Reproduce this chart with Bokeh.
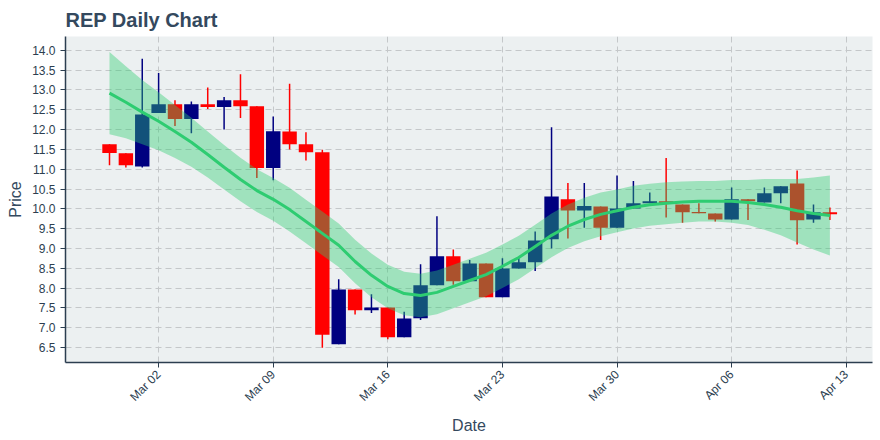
import math
import pandas as pd
from bokeh.plotting import figure
from bokeh.models import (Range1d, FixedTicker, DatetimeTickFormatter,
                          NumeralTickFormatter, ColumnDataSource)
from bokeh.embed import file_html
from bokeh.resources import INLINE

# ---------------- data ----------------
dates = pd.date_range("2020-02-28", "2020-04-12", freq="D")

opens = [11.63, 11.40, 11.07, 12.42, 12.64, 12.27, 12.64, 12.57, 12.74, 12.59,
         11.03, 11.95, 11.63, 11.43, 6.58, 7.96, 7.44, 7.51, 6.76, 7.24,
         8.07, 8.80, 8.17, 8.62, 7.77, 8.49, 8.65, 9.23, 10.24, 9.96,
         10.06, 9.52, 10.01, 10.14, 10.19, 10.11, 9.92, 9.88, 9.73, 10.24,
         10.16, 10.39, 10.64, 9.73, 9.91]
highs = [11.63, 11.40, 13.79, 13.43, 12.74, 12.71, 13.06, 12.82, 13.40, 12.59,
         12.33, 13.16, 11.93, 11.49, 8.22, 7.96, 7.84, 7.51, 7.40, 8.60,
         9.81, 8.97, 8.71, 8.62, 8.75, 8.77, 9.43, 12.06, 10.65, 10.65,
         10.06, 10.84, 10.70, 10.41, 11.28, 10.11, 10.14, 9.88, 10.54, 10.24,
         10.54, 10.57, 10.97, 10.11, 10.03]
lows = [11.10, 11.04, 11.04, 12.42, 12.09, 11.91, 12.52, 12.00, 12.29, 10.78,
        10.72, 11.50, 11.22, 6.49, 6.58, 7.33, 7.37, 6.71, 6.76, 7.19,
        8.07, 8.08, 8.17, 7.77, 7.77, 8.49, 8.43, 9.00, 9.25, 9.52,
        9.21, 9.52, 10.01, 10.14, 9.78, 9.65, 9.89, 9.68, 9.73, 9.72,
        10.16, 10.14, 9.10, 9.65, 9.72]
closes = [11.41, 11.10, 12.38, 12.64, 12.27, 12.64, 12.57, 12.74, 12.59, 11.03,
          11.96, 11.63, 11.43, 6.82, 7.96, 7.44, 7.51, 6.76, 7.23, 8.07,
          8.80, 8.17, 8.62, 7.77, 8.49, 8.65, 9.20, 10.31, 9.96, 10.07,
          9.52, 10.01, 10.14, 10.19, 10.14, 9.91, 9.89, 9.73, 10.24, 10.19,
          10.39, 10.57, 9.71, 9.91, 9.86]

trend = [12.92, 12.69, 12.44, 12.21, 11.95, 11.68, 11.37, 11.05, 10.74, 10.46,
         10.24, 9.98, 9.68, 9.38, 9.08, 8.67, 8.32, 8.04, 7.86, 7.81,
         7.89, 8.04, 8.19, 8.34, 8.55, 8.77, 9.05, 9.33, 9.56, 9.73,
         9.86, 9.95, 10.04, 10.10, 10.14, 10.17, 10.19, 10.19, 10.19, 10.16,
         10.11, 10.04, 9.95, 9.88, 9.83]
band_upper = [13.96, 13.60, 13.25, 12.94, 12.62, 12.30, 11.95, 11.61, 11.29, 11.00,
              10.78, 10.53, 10.23, 9.93, 9.63, 9.22, 8.87, 8.59, 8.41, 8.36,
              8.44, 8.59, 8.74, 8.89, 9.10, 9.32, 9.60, 9.88, 10.11, 10.28,
              10.41, 10.49, 10.58, 10.63, 10.67, 10.69, 10.70, 10.70, 10.73, 10.73,
              10.75, 10.75, 10.75, 10.79, 10.84]
band_lower = [11.88, 11.78, 11.63, 11.48, 11.28, 11.06, 10.79, 10.49, 10.19, 9.92,
              9.70, 9.43, 9.13, 8.83, 8.53, 8.12, 7.77, 7.49, 7.31, 7.26,
              7.34, 7.49, 7.64, 7.79, 8.00, 8.22, 8.50, 8.78, 9.01, 9.18,
              9.31, 9.41, 9.50, 9.57, 9.61, 9.65, 9.68, 9.68, 9.65, 9.59,
              9.47, 9.33, 9.15, 8.97, 8.82]

x_tick_dates = ["2020-03-02", "2020-03-09", "2020-03-16", "2020-03-23",
                "2020-03-30", "2020-04-06", "2020-04-13"]
y_ticks = [6.5, 7.0, 7.5, 8.0, 8.5, 9.0, 9.5, 10.0, 10.5, 11.0, 11.5,
           12.0, 12.5, 13.0, 13.5, 14.0]

INC_COLOR = "#000080"
DEC_COLOR = "#ff0000"
TEXT = "#2c3e50"

# ---------------- sources ----------------
colors = [INC_COLOR if c >= o else DEC_COLOR for o, c in zip(opens, closes)]
candles = ColumnDataSource(dict(
    date=dates, open=opens, high=highs, low=lows, close=closes,
    top=[max(o, c) for o, c in zip(opens, closes)],
    bottom=[min(o, c) for o, c in zip(opens, closes)],
    color=colors))
trend_src = ColumnDataSource(dict(date=dates, trend=trend,
                                  upper=band_upper, lower=band_lower))

day_ms = 24 * 60 * 60 * 1000

p = figure(width=880, height=440, x_axis_type="datetime",
           output_backend="svg", toolbar_location=None,
           x_range=Range1d(pd.Timestamp("2020-02-25 07:30"),
                           pd.Timestamp("2020-04-14 14:30")),
           y_range=Range1d(6.12, 14.35),
           min_border_left=65, min_border_right=8,
           min_border_top=36, min_border_bottom=78)

p.background_fill_color = "#ecf0f1"
p.border_fill_color = "white"
p.outline_line_color = None

# candles
p.segment(x0="date", y0="high", x1="date", y1="low", source=candles,
          line_color="color", line_width=1.5)
p.vbar(x="date", width=0.88 * day_ms, top="top", bottom="bottom",
       source=candles, fill_color="color", line_color=None)

# trend band + line
p.varea(x="date", y1="lower", y2="upper", source=trend_src,
        fill_color="#2ecc71", fill_alpha=0.4)
p.line(x="date", y="trend", source=trend_src, line_color="#2ecc71",
       line_width=3)

# title
p.title.text = "REP Daily Chart"
p.title.text_font = "Liberation Sans"
p.title.text_font_size = "20px"
p.title.text_font_style = "bold"
p.title.text_color = "#34495e"
p.title.align = "left"
p.title.standoff = 12

# axes
p.xaxis.ticker = FixedTicker(ticks=[pd.Timestamp(d).value / 1e6 for d in x_tick_dates])
fmt = "%b %d"
p.xaxis.formatter = DatetimeTickFormatter(days=fmt, months=fmt, hours=fmt,
                                          years=fmt, minutes=fmt)
p.xaxis.major_label_orientation = math.pi / 4
p.yaxis.ticker = FixedTicker(ticks=y_ticks)
p.yaxis.formatter = NumeralTickFormatter(format="0.0")

p.xaxis.axis_label = "Date"
p.yaxis.axis_label = "Price"
for ax in (p.xaxis, p.yaxis):
    ax.axis_label_text_font = "Liberation Sans"
    ax.axis_label_text_font_size = "16px"
    ax.axis_label_text_font_style = "normal"
    ax.axis_label_text_color = "#34495e"
    ax.major_label_text_font = "Liberation Sans"
    ax.major_label_text_font_size = "12px"
    ax.major_label_text_color = TEXT
    ax.axis_line_color = "#2c3e50"
    ax.axis_line_width = 1.5
    ax.major_tick_line_color = "#2c3e50"
    ax.major_tick_in = 0
    ax.major_tick_out = 5
    ax.minor_tick_line_color = None

# grid
for g in (p.xgrid, p.ygrid):
    g.grid_line_color = "#c4c7c9"
    g.grid_line_dash = "6 4"
    g.grid_line_width = 1

open("out.html", "w").write(file_html(p, INLINE))
